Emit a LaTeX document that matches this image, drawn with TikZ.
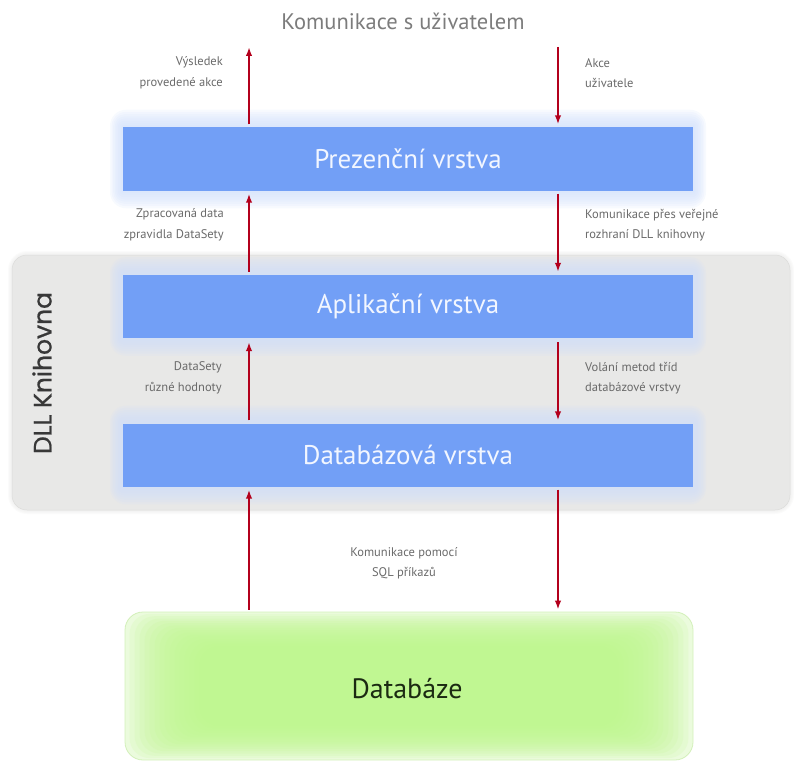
\documentclass[tikz,border=0pt]{standalone}
\usepackage{fontspec}
\setmainfont{PT Sans}
\newfontfamily\dllfont{Poppins}[FakeBold=0.8]
\usetikzlibrary{arrows.meta,calc}

\definecolor{layerblue}{HTML}{729FF6}
\definecolor{layertext}{HTML}{F2F6FF}
\definecolor{haloblue}{HTML}{D2E0FB}
\definecolor{arrowred}{HTML}{B3001C}
\definecolor{labelgray}{HTML}{6A6A6A}
\definecolor{titlegray}{HTML}{7C7C7C}
\definecolor{dllgray}{HTML}{E8E8E7}
\definecolor{dlledge}{HTML}{DCDCDA}
\definecolor{dbgreen}{HTML}{C0F78E}
\definecolor{dbpale}{HTML}{EBFBDD}
\definecolor{dbedge}{HTML}{D3F0BA}
\definecolor{dbtext}{HTML}{1B2A12}

\pgfdeclarelayer{back}
\pgfdeclarelayer{halo}
\pgfsetlayers{back,halo,main}

\begin{document}
\begin{tikzpicture}[x=1pt,y=-1pt,
  layer/.style={fill=layerblue, text=layertext, minimum width=570pt,
    minimum height=63pt, inner sep=0pt, font=\fontsize{27}{30}\selectfont},
  flow/.style={draw=arrowred, line width=1.8pt,
    -{Latex[length=9pt,width=6.5pt]}},
  note/.style={text=labelgray, font=\fontsize{12.5}{20.5}\selectfont,
    inner sep=0pt},
]
\useasboundingbox (0,0) rectangle (794,762);

% DLL library container, with a softened rim
\begin{pgfonlayer}{back}
\foreach \g in {1,...,4}{
  \fill[dllgray, opacity=0.18, rounded corners={15pt+\g pt}]
    ({12-\g},{255-\g}) rectangle ({790+\g},{510+\g});
}
\node[fill=dllgray, draw=dlledge, line width=0.5pt, rounded corners=15pt,
      minimum width=778pt, minimum height=255pt, inner sep=0pt]
      (dll) at (401,382.5) {};
\end{pgfonlayer}
\node[rotate=90, text=black!78, font=\dllfont\fontsize{25}{28}\selectfont]
      (dlltitle) at (42,373) {DLL Knihovna};

% the three layers
\node[layer] (pres) at (408,159)   {Prezenční vrstva};
\node[layer] (app)  at (408,306.5) {Aplikační vrstva};
\node[layer] (dbl)  at (408,455)   {Databázová vrstva};

% soft halo round each layer
\begin{pgfonlayer}{halo}
  \foreach \lay in {pres,app,dbl}{
    \foreach \g in {1,...,8}{
      \fill[haloblue, opacity=0.17, rounded corners={2pt*\g}]
        ([xshift={-1.6pt*\g}, yshift={-2.2pt*\g}]\lay.south west) rectangle
        ([xshift={1.6pt*\g}, yshift={2.2pt*\g}]\lay.north east);
    }
  }
\end{pgfonlayer}

% database with its green glow
\node[fill=dbpale, draw=dbedge, line width=0.8pt, rounded corners=18pt,
      minimum width=568pt, minimum height=148pt, inner sep=0pt]
      (db) at (409,686) {};
\foreach \g in {1,...,15}{
  \fill[dbgreen, opacity=0.15, rounded corners=20pt]
    ([xshift={5pt*\g}, yshift={2.3pt*\g}]db.south west) rectangle
    ([xshift={-5pt*\g}, yshift={-2.3pt*\g}]db.north east);
}
\node[text=dbtext, font=\fontsize{28}{30}\selectfont] (dbname)
      at (407,689) {Databáze};

% heading
\node[text=titlegray, font=\fontsize{22.5}{26}\selectfont] (user)
      at (403,21) {Komunikace s uživatelem};

% arrow columns
\coordinate (uL) at (249,47);
\coordinate (uR) at (558,47);

\draw[flow, shorten <=3pt] (pres.north -| uL) -- (uL);
\draw[flow, shorten >=3pt] (uR) -- (pres.north -| uR);

\draw[flow, shorten <=3pt, shorten >=3pt] (app.north -| uL) -- (pres.south -| uL);
\draw[flow, shorten <=3pt, shorten >=3pt] (pres.south -| uR) -- (app.north -| uR);

\draw[flow, shorten <=3pt, shorten >=4pt] (dbl.north -| uL) -- (app.south -| uL);
\draw[flow, shorten <=4pt, shorten >=3pt] (app.south -| uR) -- (dbl.north -| uR);

\draw[flow, shorten <=2pt, shorten >=3pt] (db.north -| uL) -- (dbl.south -| uL);
\draw[flow, shorten <=3pt, shorten >=2pt] (dbl.south -| uR) -- (db.north -| uR);

% arrow labels
\node[note, anchor=east, align=right] (n1) at (223,73)
  {Výsledek\\provedené akce};
\node[note, anchor=west, align=left] (n2) at (585,73)
  {Akce\\uživatele};
\node[note, anchor=east, align=right] (n3) at (224,225)
  {Zpracovaná data\\zpravidla DataSety};
\node[note, anchor=west, align=left] (n4) at (585,225)
  {Komunikace přes veřejné\\rozhraní DLL knihovny};
\node[note, anchor=east, align=right] (n5) at (222,378)
  {DataSety\\různé hodnoty};
\node[note, anchor=west, align=left] (n6) at (585,378)
  {Volání metod tříd\\databázové vrstvy};
\node[note, align=center] (n7) at (404,563)
  {Komunikace pomocí\\SQL příkazů};
\end{tikzpicture}
\end{document}
